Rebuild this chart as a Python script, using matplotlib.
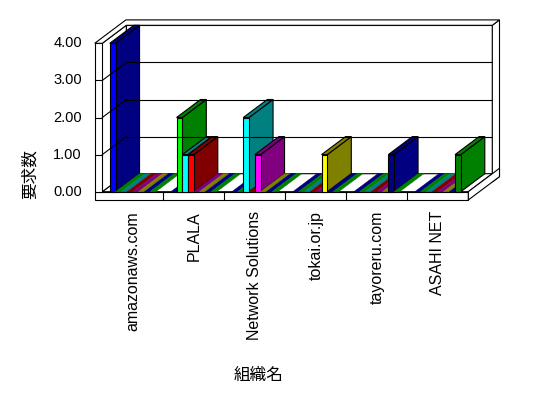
import matplotlib
matplotlib.use("Agg")
import matplotlib.pyplot as plt
from matplotlib.patches import Polygon

categories = ['amazonaws.com', 'PLALA', 'Network Solutions', 'tokai.or.jp', 'tayoreru.com', 'ASAHI NET']
# one list per series (each series is one colour slot inside every category)
series_1 = [4, 0, 0, 0, 0, 0]
series_2 = [0, 2, 0, 0, 0, 0]
series_3 = [0, 1, 2, 0, 0, 0]
series_4 = [0, 1, 0, 0, 0, 0]
series_5 = [0, 0, 1, 0, 0, 0]
series_6 = [0, 0, 0, 1, 0, 0]
series_7 = [0, 0, 0, 0, 1, 0]
series_8 = [0, 0, 0, 0, 0, 1]
y_ticks = [0, 1, 2, 3, 4]
y_title = '要求数'
x_title = '組織名'

series = [series_1, series_2, series_3, series_4, series_5, series_6, series_7, series_8]
front_colors = ['#0000FF', '#00FF00', '#00FFFF', '#FF0000', '#FF00FF', '#FFFF00', '#000080', '#008000']
dark_colors = ['#000080', '#008000', '#008080', '#800000', '#800080', '#808000', '#000080', '#008000']

# pixel geometry of the fake 3D box
X0, CW = 102.3, 61.0      # left of first category, px per category
Y0, VH = 191.7, 37.1      # value 0 on the front plane, px per unit
DX, DY = 24.0, 18.0       # depth offset front -> back
TX = 7.6 / CW             # left wall thickness (categories)
TD = 0.3                  # back wall thickness (depth units)
TV = 8.3 / VH             # floor thickness (value units)
W, H = 548, 398

fig = plt.figure(figsize=(W / 100, H / 100), dpi=100)
ax = fig.add_axes([0, 0, 1, 1])
ax.set_xlim(-X0 / CW, (W - X0) / CW)
ax.set_ylim((Y0 - H) / VH, Y0 / VH)
ax.axis('off')


def P(x, v, d=0.0):
    return (x + d * DX / CW, v + d * DY / VH)


def poly(pts, fc, ec='black', lw=0.8):
    ax.add_patch(Polygon([P(*p) for p in pts], closed=True, facecolor=fc,
                         edgecolor=ec, linewidth=lw, joinstyle='miter'))


def line(p1, p2):
    a, b = P(*p1), P(*p2)
    ax.plot([a[0], b[0]], [a[1], b[1]], color='black', lw=0.8)


n = len(categories)
vmax = max(y_ticks)

# back wall
poly([(0, 0, 1), (n, 0, 1), (n, vmax, 1), (0, vmax, 1)], 'white')
poly([(n, -TV, 1), (n, -TV, 1 + TD), (n, vmax, 1 + TD), (n, vmax, 1)], 'white')
for t in y_ticks[1:-1]:
    line((0, t, 1), (n, t, 1))
# floor
poly([(0, 0, 0), (n, 0, 0), (n, 0, 1), (0, 0, 1)], 'white')
poly([(-TX, -TV, 0), (n, -TV, 0), (n, 0, 0), (-TX, 0, 0)], 'white')
poly([(n, -TV, 0), (n, -TV, 1 + TD), (n, 0, 1 + TD), (n, 0, 0)], 'white')
for i in range(1, n):
    line((i, -TV, 0), (i, 0, 0))
# left wall
poly([(0, 0, 0), (0, 0, 1), (0, vmax, 1), (0, vmax, 0)], 'white')
poly([(-TX, 0, 0), (0, 0, 0), (0, vmax, 0), (-TX, vmax, 0)], 'white')
for t in y_ticks[1:-1]:
    line((0, t, 0), (0, t, 1))
    line((-TX, t, 0), (0, t, 0))
# top of both walls
poly([(-TX, vmax, 0), (0, vmax, 0), (0, vmax, 1), (n, vmax, 1),
      (n, vmax, 1 + TD), (-TX, vmax, 1 + TD)], 'white')

# bars
ns = len(series)
gap = 7.5 / CW
bw = (1 - 2 * gap) / ns
for i in range(n):
    for k in range(ns):
        v = series[k][i]
        x0 = i + gap + k * bw
        x1 = x0 + bw
        if v == 0:
            poly([(x0, 0, 0), (x1, 0, 0), (x1, 0, 1), (x0, 0, 1)],
                 dark_colors[k], ec=dark_colors[k], lw=0.3)
            continue
        poly([(x1, 0, 0), (x1, 0, 1), (x1, v, 1), (x1, v, 0)], dark_colors[k])
        poly([(x0, v, 0), (x1, v, 0), (x1, v, 1), (x0, v, 1)], dark_colors[k])
        poly([(x0, 0, 0), (x1, 0, 0), (x1, v, 0), (x0, v, 0)], front_colors[k])

# texts
for t in y_ticks:
    ax.text(-(X0 - 82) / CW, t, f'{t:.2f}', ha='right', va='center',
            fontsize=10.5, family='Liberation Sans')
for i, c in enumerate(categories):
    ax.text(i + 0.5, (Y0 - 211) / VH, c, rotation=90, ha='center', va='top',
            fontsize=11.5, family='Liberation Sans')
ax.text(-(X0 - 30) / CW, (Y0 - 174) / VH, y_title, rotation=90, ha='center',
        va='center', fontsize=12, family='Noto Sans CJK JP')
ax.text((259 - X0) / CW, (Y0 - 375) / VH, x_title, ha='center', va='center',
        fontsize=12, family='Noto Sans CJK JP')

fig.savefig('out.png', dpi=100, facecolor='white')
